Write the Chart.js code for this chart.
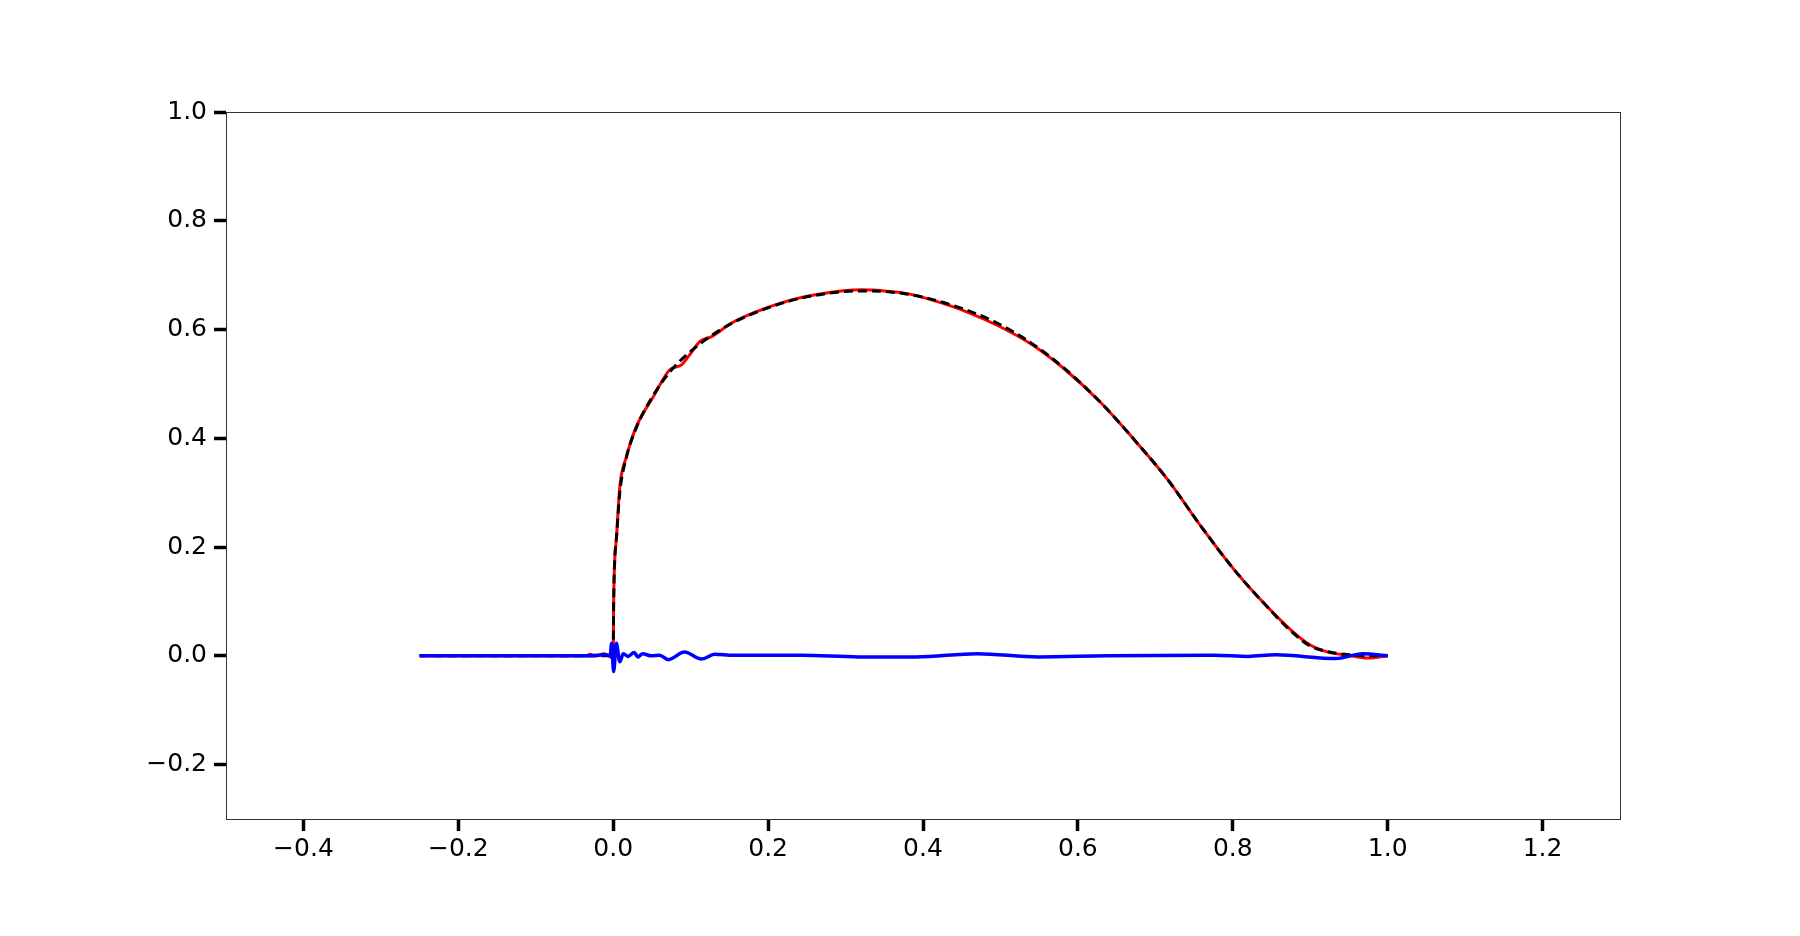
<!DOCTYPE html>
<html>
<head>
<meta charset="utf-8">
<script src="https://cdn.jsdelivr.net/npm/chart.js@4"></script>
<style>
  html, body { margin: 0; padding: 0; background: #fff; }
  #wrap { width: 1800px; height: 936px; }
</style>
</head>
<body>
<div id="wrap"><canvas id="chart" width="1800" height="936"></canvas></div>
<script>
// tick labels
const xTicks = [-0.4, -0.2, 0.0, 0.2, 0.4, 0.6, 0.8, 1.0, 1.2];
const yTicks = [-0.2, 0.0, 0.2, 0.4, 0.6, 0.8, 1.0];

// reference curve (black dashed)
const refX = [-0.25, -0.1, 0, 0.0005, 0.0015, 0.0043, 0.0085, 0.017, 0.03, 0.05, 0.073, 0.1, 0.127, 0.155, 0.187, 0.217, 0.243, 0.27, 0.3, 0.32, 0.35, 0.38, 0.41, 0.454, 0.497, 0.54, 0.583, 0.63, 0.673, 0.716, 0.759, 0.802, 0.84, 0.877, 0.9, 0.925, 0.95, 0.975, 1.0];
const refY = [0, 0, 0, 0.09, 0.16, 0.22, 0.30, 0.365, 0.42, 0.475, 0.522, 0.56, 0.589, 0.613, 0.633, 0.648, 0.658, 0.665, 0.67, 0.671, 0.67, 0.665, 0.656, 0.637, 0.611, 0.575, 0.528, 0.465, 0.397, 0.324, 0.238, 0.158, 0.097, 0.043, 0.018, 0.007, 0.002, 0.0, 0.0];

// computed curve (red)
const numX = [-0.25, -0.1, -0.035, -0.03, -0.022, -0.012, -0.005, -0.001, 0, 0.0005, 0.0015, 0.0043, 0.0085, 0.017, 0.03, 0.052, 0.073, 0.088, 0.099, 0.112, 0.127, 0.153, 0.187, 0.217, 0.243, 0.27, 0.3, 0.32, 0.35, 0.38, 0.41, 0.454, 0.497, 0.54, 0.583, 0.63, 0.673, 0.716, 0.759, 0.802, 0.84, 0.877, 0.9, 0.925, 0.95, 0.975, 1.0];
const numY = [0, 0, 0, 0.003, 0, 0.004, 0, -0.004, 0, 0.09, 0.16, 0.219, 0.311, 0.366, 0.422, 0.477, 0.526, 0.535, 0.554, 0.578, 0.587, 0.612, 0.634, 0.649, 0.659, 0.666, 0.672, 0.673, 0.671, 0.666, 0.655, 0.634, 0.607, 0.573, 0.527, 0.465, 0.397, 0.324, 0.238, 0.158, 0.097, 0.045, 0.02, 0.006, 0.001, -0.004, 0.0];

// difference (blue)
const errX = [-0.25, -0.1, -0.032, -0.01, -0.004, -0.002, 0.0005, 0.004, 0.0085, 0.013, 0.019, 0.027, 0.032, 0.038, 0.049, 0.06, 0.071, 0.092, 0.114, 0.131, 0.155, 0.243, 0.317, 0.391, 0.47, 0.549, 0.638, 0.776, 0.82, 0.855, 0.933, 0.968, 1.0];
const errY = [0, 0, 0, 0.002, 0, 0.023, -0.029, 0.023, -0.011, 0.004, -0.001, 0.006, -0.002, 0.004, 0, 0.001, -0.007, 0.007, -0.006, 0.003, 0.001, 0.001, -0.002, -0.002, 0.004, -0.002, 0, 0.001, -0.001, 0.002, -0.005, 0.004, 0.0];

const pts = (xs, ys) => xs.map((x, i) => ({ x: x, y: ys[i] }));

// box round the plot area
const frame = {
  id: 'frame',
  afterDraw(chart) {
    const a = chart.chartArea, c = chart.ctx;
    c.save();
    c.strokeStyle = '#333';
    c.lineWidth = 1;
    c.strokeRect(Math.round(a.left) + 0.5, Math.round(a.top) + 0.5, Math.round(a.right - a.left), Math.round(a.bottom - a.top));
    c.restore();
  }
};

const fmt = v => v.toFixed(1).replace('-', '\u2212');

const chart = document.querySelector('#chart').getContext('2d');

new Chart(chart, {
  type: 'scatter',
  data: {
    datasets: [
      { label: 'error', data: pts(errX, errY), borderColor: '#0000ff', borderWidth: 3.5, showLine: true, pointRadius: 0, cubicInterpolationMode: 'monotone', order: 0 },
      { label: 'exact', data: pts(refX, refY), borderColor: '#000000', borderWidth: 3, borderDash: [9, 5], showLine: true, pointRadius: 0, cubicInterpolationMode: 'monotone', order: 1 },
      { label: 'numeric', data: pts(numX, numY), borderColor: '#ff0000', borderWidth: 3, showLine: true, pointRadius: 0, cubicInterpolationMode: 'monotone', order: 2 }
    ]
  },
  options: {
    responsive: false,
    animation: false,
    layout: { padding: { left: 0, right: 180, top: 112, bottom: 0 } },
    plugins: { legend: { display: false }, tooltip: { enabled: false } },
    scales: {
      x: {
        type: 'linear', min: -0.5, max: 1.3,
        afterBuildTicks: axis => { axis.ticks = xTicks.map(v => ({ value: v })); },
        afterFit: axis => { axis.height = 117; },
        grid: { drawOnChartArea: false, drawTicks: true, tickLength: 12, tickWidth: 3.5, tickColor: '#000' },
        border: { display: false },
        ticks: { color: '#000', padding: 3, font: { family: 'DejaVu Sans', size: 25 }, callback: v => fmt(v), maxRotation: 0, autoSkip: false }
      },
      y: {
        type: 'linear', min: -0.3, max: 1.0,
        afterBuildTicks: axis => { axis.ticks = yTicks.map(v => ({ value: v })); },
        afterFit: axis => { axis.width = 226; },
        grid: { drawOnChartArea: false, drawTicks: true, tickLength: 12, tickWidth: 3.5, tickColor: '#000' },
        border: { display: false },
        ticks: { color: '#000', padding: 7, font: { family: 'DejaVu Sans', size: 25 }, callback: v => fmt(v), autoSkip: false }
      }
    }
  },
  plugins: [frame]
});
</script>
</body>
</html>
